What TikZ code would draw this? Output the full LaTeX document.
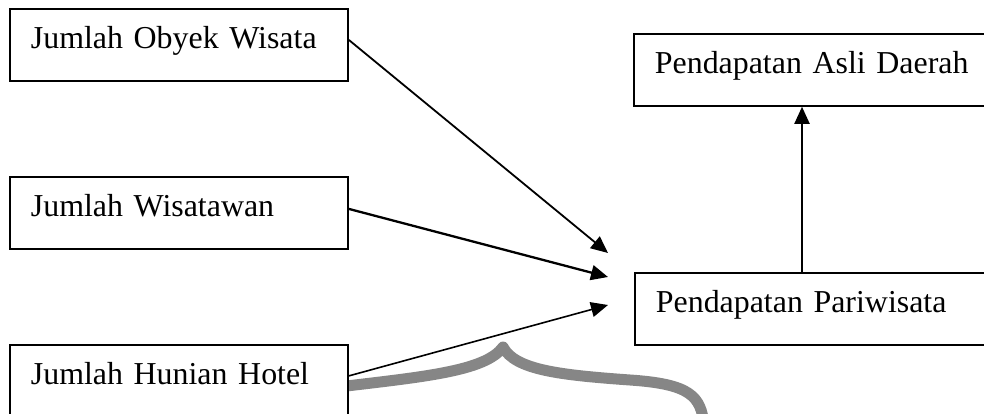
\documentclass[tikz,border=0pt]{standalone}
\usepackage{fontspec}
\setmainfont{Liberation Serif}
\usetikzlibrary{arrows.meta,calc}
\begin{document}
\begin{tikzpicture}[x=1pt,y=-1pt,
  box/.style={draw=black, line width=1.8pt, fill=white, rectangle, anchor=north west,
    inner xsep=21pt, inner ysep=0pt, minimum height=72pt, align=left,
    text height=22pt, text depth=14pt, font=\fontsize{31.9}{38}\selectfont},
  leftbox/.style={box, text width=296pt},
  rightbox/.style={box, text width=338pt},
  arr/.style={line width=2pt, -{Triangle[length=17pt,width=15pt]}},
  wmline/.style={draw=gray!95, line width=11pt, line cap=round, line join=round}]
\clip (0,0) rectangle (984,414);
\fill[white] (0,0) rectangle (984,414);
% watermark outline
\draw[wmline] (330,388) .. controls (420,377) and (485,372) .. (503,347)
  .. controls (515,370) and (560,375) .. (630,380)
  .. controls (690,384) and (701,396) .. (704,425);
\node[leftbox] (b1) at (9,8) {Jumlah Obyek Wisata};
\node[leftbox] (b2) at (9,176) {Jumlah Wisatawan};
\node[leftbox] (b3) at (9,344) {Jumlah Hunian Hotel};
\node[rightbox] (pad) at (633,33) {Pendapatan Asli Daerah};
\node[rightbox] (pp) at (634,272) {Pendapatan Pariwisata};
\coordinate (t1) at (608,253);
\coordinate (t2) at (608,277);
\coordinate (t3) at (608,305);
\coordinate (ax) at (802,0);
\draw[arr, line width=1.8pt] ([yshift=5pt]b1.east) -- (t1);
\draw[arr, line width=2.3pt] ([yshift=4pt]b2.east) -- (t2);
\draw[arr, line width=1.6pt] ([yshift=5pt]b3.east) -- (t3);
\draw[arr] (pp.north -| ax) -- (pad.south -| ax);
\end{tikzpicture}
\end{document}
